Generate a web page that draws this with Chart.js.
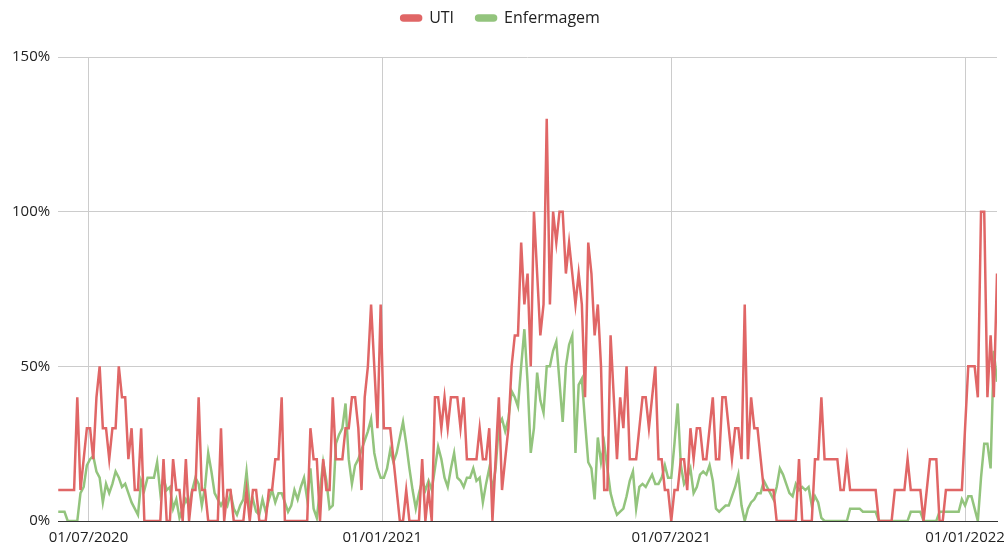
<!DOCTYPE html>
<html>
<head>
<meta charset="utf-8">
<title>UTI x Enfermagem</title>
<script src="https://cdn.jsdelivr.net/npm/chart.js"></script>
<style>
    html, body { margin: 0; padding: 0; background: #fff; }
    #wrap { width: 1008px; height: 549px; }
</style>
</head>
<body>
<div id="wrap"><canvas id="chart" width="1008" height="549"></canvas></div>
<script>
// one point every 2 days, day 0 = 12/06/2020
const dayStep = 2;
const tickDays = [19, 203, 384, 568];
const tickLabels = ['01/07/2020', '01/01/2021', '01/07/2021', '01/01/2022'];
const yTicks = [0, 50, 100, 150];

const uti = [
    10, 10, 10, 10, 10, 10, 40, 10, 20, 30, 30, 20, 40, 50, 30, 30, 20, 30, 30, 50,
    40, 40, 20, 30, 10, 10, 30, 0, 0, 0, 0, 0, 0, 20, 0, 0, 20, 10, 10, 0,
    20, 0, 10, 10, 40, 10, 10, 0, 0, 0, 0, 30, 0, 10, 10, 0, 0, 0, 0, 10,
    0, 10, 10, 0, 0, 0, 10, 10, 20, 20, 40, 0, 0, 0, 0, 0, 0, 0, 0, 30,
    20, 20, 0, 20, 10, 10, 40, 20, 20, 20, 30, 30, 40, 40, 30, 10, 40, 50, 70, 50,
    30, 70, 30, 30, 30, 20, 10, 0, 0, 10, 0, 0, 0, 0, 20, 0, 10, 0, 40, 40,
    30, 40, 30, 40, 40, 40, 30, 40, 20, 20, 20, 20, 30, 20, 20, 30, 0, 20, 40, 10,
    20, 30, 50, 60, 60, 90, 70, 80, 50, 100, 80, 60, 70, 130, 70, 100, 90, 100, 100, 80,
    90, 80, 70, 80, 70, 40, 90, 80, 60, 70, 50, 10, 10, 60, 40, 20, 40, 30, 50, 20,
    20, 20, 30, 40, 40, 30, 40, 50, 20, 20, 10, 10, 0, 10, 10, 20, 20, 10, 30, 20,
    30, 30, 20, 20, 30, 40, 20, 20, 40, 40, 30, 20, 30, 30, 20, 70, 20, 40, 30, 30,
    20, 10, 10, 10, 10, 0, 0, 0, 0, 0, 0, 0, 20, 0, 0, 0, 0, 20, 20, 40,
    20, 20, 20, 20, 20, 10, 10, 20, 10, 10, 10, 10, 10, 10, 10, 10, 10, 0, 0, 0,
    0, 0, 10, 10, 10, 10, 20, 10, 10, 10, 10, 0, 10, 20, 20, 20, 0, 0, 10, 10,
    10, 10, 10, 10, 30, 50, 50, 50, 40, 100, 100, 40, 60, 40, 80
];

const enfermagem = [
    3, 3, 3, 0, 0, 0, 0, 9, 11, 18, 20, 21, 16, 14, 6, 12, 9, 12, 16, 14,
    11, 12, 9, 6, 4, 2, 13, 10, 14, 14, 14, 19, 9, 14, 10, 11, 4, 7, 1, 4,
    7, 5, 10, 14, 12, 5, 11, 22, 16, 9, 7, 5, 7, 5, 9, 4, 2, 5, 7, 16,
    5, 7, 3, 2, 7, 3, 7, 10, 6, 9, 9, 6, 3, 5, 10, 7, 11, 14, 7, 17,
    4, 1, 10, 19, 13, 4, 5, 25, 28, 30, 38, 20, 12, 18, 20, 23, 26, 29, 33, 22,
    17, 14, 14, 17, 23, 19, 22, 27, 32, 25, 17, 10, 4, 9, 13, 10, 13, 10, 17, 24,
    20, 14, 11, 17, 22, 14, 13, 11, 14, 14, 17, 13, 14, 6, 12, 17, 10, 17, 31, 33,
    29, 33, 42, 40, 37, 50, 62, 45, 22, 30, 48, 39, 35, 50, 50, 55, 58, 45, 32, 50,
    57, 60, 22, 44, 46, 32, 19, 17, 7, 27, 19, 25, 17, 9, 5, 2, 3, 4, 8, 13,
    16, 4, 11, 12, 11, 13, 15, 12, 12, 14, 18, 14, 14, 25, 38, 18, 12, 14, 17, 9,
    11, 15, 16, 15, 18, 13, 4, 3, 4, 5, 5, 8, 11, 15, 5, 0, 4, 6, 7, 9,
    9, 13, 11, 9, 7, 11, 17, 15, 12, 9, 8, 12, 10, 11, 10, 11, 5, 8, 6, 1,
    0, 0, 0, 0, 0, 0, 0, 0, 4, 4, 4, 4, 3, 3, 3, 3, 3, 0, 0, 0,
    0, 0, 0, 0, 0, 0, 0, 3, 3, 3, 3, 0, 0, 0, 0, 0, 3, 3, 3, 3,
    3, 3, 3, 7, 5, 8, 8, 4, 0, 14, 25, 25, 17, 55, 45
];

const series = [
    { label: 'UTI', values: uti, color: '#e06666' },
    { label: 'Enfermagem', values: enfermagem, color: '#93c47d' }
];

function toPoints(values) {
    return values.map((v, i) => ({ x: i * dayStep, y: v }));
}

const fontFamily = "'Open Sans', 'DejaVu Sans', sans-serif";

// give the legend extra room below it so the plot starts lower
const legendSpace = {
    id: 'legendSpace',
    beforeInit(chart) {
        const fit = chart.legend.fit;
        chart.legend.fit = function () {
            fit.bind(chart.legend)();
            this.height += 21;
        };
    }
};

const ctx = document.getElementById('chart').getContext('2d');
new Chart(ctx, {
    type: 'line',
    data: {
        datasets: series.map(s => ({
            label: s.label,
            data: toPoints(s.values),
            borderColor: s.color,
            backgroundColor: s.color,
            borderWidth: 2.5,
            pointRadius: 0,
            tension: 0,
            fill: false
        }))
    },
    options: {
        responsive: false,
        animation: false,
        layout: { padding: { top: -12, left: 4, right: 11, bottom: -6 } },
        plugins: {
            legend: {
                position: 'top',
                labels: {
                    boxWidth: 20,
                    boxHeight: 5,
                    useBorderRadius: true,
                    borderRadius: 2.5,
                    color: '#222',
                    padding: 22,
                    font: { family: fontFamily, size: 16 }
                }
            },
            tooltip: { enabled: false }
        },
        scales: {
            x: {
                type: 'linear',
                min: 0,
                max: (uti.length - 1) * dayStep,
                afterBuildTicks: axis => {
                    axis.ticks = tickDays.map(d => ({ value: d }));
                },
                // last date label may hang past the plot edge, like the original
                afterFit: axis => {
                    axis.paddingLeft = 0;
                    axis.paddingRight = 0;
                },
                ticks: {
                    autoSkip: false,
                    maxRotation: 0,
                    padding: 8,
                    color: '#222',
                    font: { family: fontFamily, size: 15 },
                    callback: v => tickLabels[tickDays.indexOf(v)]
                },
                grid: { color: '#cccccc', drawTicks: false },
                border: { display: true, color: '#333', width: 1 }
            },
            y: {
                min: 0,
                max: 150,
                afterBuildTicks: axis => {
                    axis.ticks = yTicks.map(v => ({ value: v }));
                },
                ticks: {
                    padding: 8,
                    color: '#222',
                    font: { family: fontFamily, size: 15 },
                    callback: v => v + '%'
                },
                grid: {
                    drawTicks: false,
                    color: c => (c.tick && c.tick.value === 0) ? '#333' : '#cccccc'
                },
                border: { display: false }
            }
        }
    },
    plugins: [legendSpace]
});
</script>
</body>
</html>
